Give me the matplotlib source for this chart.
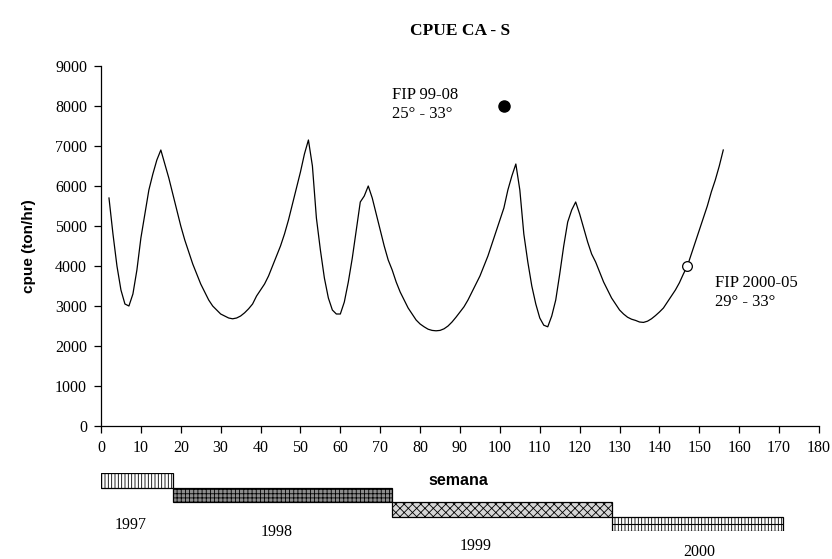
import matplotlib.pyplot as plt
import numpy as np

# weekly cpue series (semana 2..156)
weeks = list(range(2, 157))
cpue = [
    5700, 4800, 4000, 3400, 3050, 3000, 3300, 3900, 4700, 5300,   # 2-11
    5900, 6300, 6650, 6900, 6550, 6200, 5800, 5400, 5000, 4650,   # 12-21
    4350, 4050, 3800, 3550, 3350, 3150, 3000, 2900, 2800, 2750,   # 22-31
    2700, 2680, 2700, 2750, 2830, 2930, 3050, 3250, 3400, 3550,   # 32-41
    3750, 4000, 4250, 4500, 4800, 5150, 5550, 5950, 6350, 6800,   # 42-51
    7150, 6500, 5200, 4400, 3700, 3200, 2900, 2800, 2800, 3100,   # 52-61
    3600, 4200, 4900, 5600, 5750, 6000, 5700, 5300, 4900, 4500,   # 62-71
    4150, 3900, 3600, 3350, 3150, 2950, 2800, 2650, 2550, 2480,   # 72-81
    2420, 2390, 2380, 2390, 2430, 2500, 2600, 2720, 2850, 2980,   # 82-91
    3150, 3350, 3550, 3750, 4000, 4250, 4550, 4850, 5150, 5450,   # 92-101
    5900, 6250, 6550, 5900, 4800, 4100, 3500, 3050, 2700, 2520,   # 102-111
    2480, 2750, 3150, 3800, 4500, 5100, 5400, 5600, 5300, 4950,   # 112-121
    4600, 4300, 4100, 3850, 3600, 3400, 3200, 3050, 2900, 2800,   # 122-131
    2720, 2670, 2640, 2600, 2590, 2620, 2680, 2760, 2850, 2950,   # 132-141
    3100, 3250, 3400, 3580, 3800, 4000, 4300, 4600, 4900, 5200,   # 142-151
    5500, 5850, 6150, 6500, 6900,                                 # 152-156
]

# survey points
fip_labels = ["FIP 99-08\n25° - 33°", "FIP 2000-05\n29° - 33°"]
fip_week = [101, 147]
fip_cpue = [8000, 4000]

# calendar years in weeks
years = ["1997", "1998", "1999", "2000"]
year_start = [0, 18, 73, 128]
year_end = [18, 73, 128, 171]

serif = ["Liberation Serif", "DejaVu Serif"]
sans = ["Liberation Sans", "DejaVu Sans"]

plt.rcParams["hatch.linewidth"] = 0.6

fig = plt.figure(figsize=(8.32, 5.59), dpi=100)

# main panel
ax = fig.add_axes([101 / 832, 1 - 426 / 559, 718 / 832, 360 / 559])
ax.plot(weeks, cpue, color="black", lw=0.9)
ax.plot(fip_week[0], fip_cpue[0], "o", color="black", ms=8)
ax.plot(fip_week[1], fip_cpue[1], "o", mfc="white", mec="black", ms=7, mew=0.9)

ax.text(73, 8480, fip_labels[0], ha="left", va="top", family=serif, fontsize=12,
        linespacing=1.3)
ax.text(154, 3780, fip_labels[1], ha="left", va="top", family=serif, fontsize=12,
        linespacing=1.3)

ax.set_xlim(0, 180)
ax.set_ylim(0, 9000)
ax.set_xticks(np.arange(0, 181, 10))
ax.set_yticks(np.arange(0, 9001, 1000))
for lab in ax.get_xticklabels() + ax.get_yticklabels():
    lab.set_family(serif)
    lab.set_fontsize(11.5)
ax.tick_params(direction="out", length=5, width=0.9, color="black", pad=5)
ax.spines["top"].set_visible(False)
ax.spines["right"].set_visible(False)
ax.spines["left"].set_linewidth(0.9)
ax.spines["bottom"].set_linewidth(0.9)
ax.set_ylabel("cpue (ton/hr)", family=sans, fontsize=11, weight="bold", labelpad=14)
ax.set_title("CPUE CA - S", family=serif, fontsize=12.5, weight="bold", pad=22)

# year bars underneath
bx = fig.add_axes([101 / 832, 1 - 531 / 559, 718 / 832, 58 / 559])
bx.set_xlim(0, 180)
bx.set_ylim(0, 4)
bx.axis("off")

faces = ["white", "#8c8c8c", "#d6d6d6", "white"]
hatches = ["|||||", "++++", "xxxx", "|||||"]
label_dx = [-1.5, -1.5, -6.5, 0.5]
label_dy = [-2.6, -2.1, -2.0, -1.45]
n = len(years)
for i in range(n):
    y0 = n - 1 - i
    w = year_end[i] - year_start[i]
    bx.bar(year_start[i], 1, width=w, bottom=y0, align="edge", color=faces[i],
           edgecolor="black", hatch=hatches[i], lw=0.9)
    if i == n - 1:
        bx.hlines(y0 + 0.5, year_start[i], year_end[i], color="black", lw=0.8)
    xc = (year_start[i] + year_end[i]) / 2 + label_dx[i]
    bx.text(xc, y0 + label_dy[i], years[i], ha="center", va="center",
            family=serif, fontsize=11.5, clip_on=False)

bx.text(89.5, 3.45, "semana", ha="center", va="center", family=sans,
        fontsize=11.5, weight="bold")

fig.savefig("out.png", dpi=100)
